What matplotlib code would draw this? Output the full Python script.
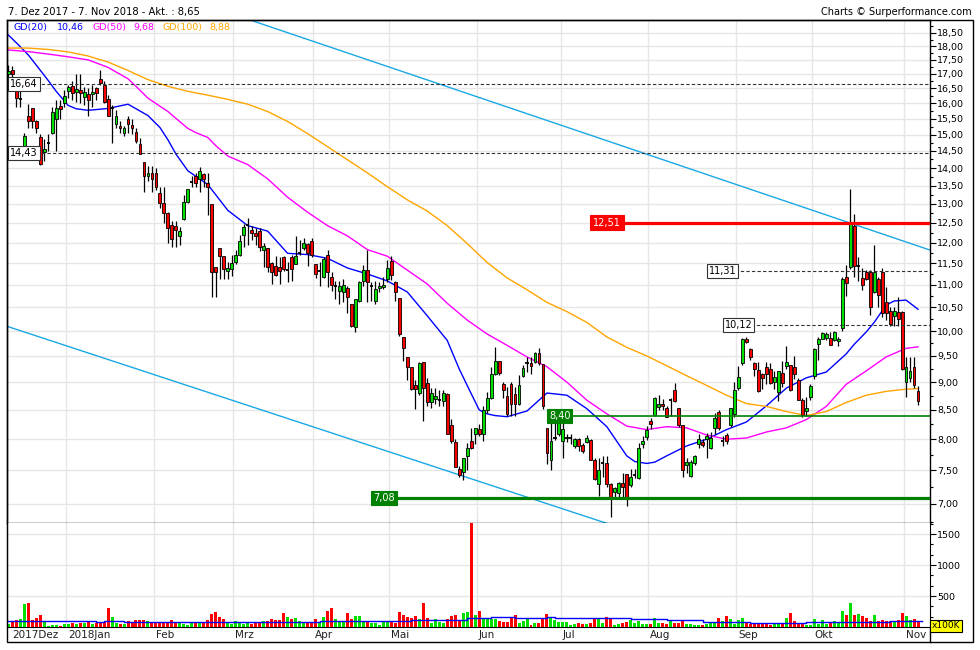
import numpy as np
import matplotlib
matplotlib.use("Agg")
import matplotlib.pyplot as plt
from matplotlib.ticker import FixedLocator, MultipleLocator, FuncFormatter, NullFormatter
from matplotlib.patches import Rectangle
from matplotlib.lines import Line2D

plt.rcParams['font.family'] = ['DejaVu Sans']

# daily candles, 7 Dez 2017 .. 7 Nov 2018
opens = [17.00, 17.12, 16.43, 16.13, 14.66, 15.57, 15.83, 15.44, 14.94, 14.47,
         14.75, 15.06, 15.50, 15.90, 16.00, 16.40, 16.57, 16.37, 16.43, 16.20,
         16.30, 16.30, 16.50, 16.83, 16.63, 16.13, 15.86, 15.34, 15.28, 15.06,
         15.50, 15.31, 15.09, 14.72, 14.18, 13.78, 13.86, 13.86, 13.29, 13.03,
         12.75, 12.45, 12.43, 12.17, 12.60, 13.05, 13.61, 13.78, 13.69, 13.83,
         13.58, 13.00, 11.41, 11.86, 11.67, 11.32, 11.36, 11.52, 11.70, 12.19,
         12.45, 12.33, 12.24, 12.29, 11.83, 11.86, 11.50, 11.43, 11.41, 11.64,
         11.34, 11.64, 11.48, 11.76, 11.88, 11.98, 12.05, 11.48, 11.32, 11.18,
         11.70, 11.18, 10.98, 10.86, 10.84, 10.93, 10.57, 10.09, 10.64, 11.09,
         11.34, 10.98, 10.64, 10.93, 10.96, 11.14, 11.55, 11.07, 10.70, 9.87,
         9.48, 9.29, 8.94, 8.80, 9.39, 8.98, 8.63, 8.69, 8.67, 8.65,
         8.78, 8.24, 7.95, 7.53, 7.47, 7.72, 7.97, 8.09, 8.17, 8.09,
         8.50, 8.71, 9.15, 9.40, 8.96, 8.74, 8.96, 8.78, 8.60, 9.11,
         9.37, 9.37, 9.39, 9.56, 9.35, 8.19, 7.66, 8.02, 8.09, 7.97,
         8.02, 8.02, 7.89, 8.00, 7.91, 7.95, 7.98, 7.67, 7.29, 7.62,
         7.61, 7.29, 7.18, 7.16, 7.31, 7.44, 7.28, 7.43, 7.38, 7.92,
         8.03, 8.31, 8.41, 8.55, 8.61, 8.54, 8.67, 8.85, 8.54, 8.23,
         7.58, 7.41, 7.61, 7.92, 7.95, 8.00, 7.86, 8.19, 8.47, 7.97,
         8.07, 8.24, 8.43, 8.90, 9.37, 9.84, 9.63, 9.37, 9.22, 9.15,
         9.29, 9.25, 9.01, 8.81, 9.18, 9.31, 9.33, 9.29, 9.04, 8.67,
         8.48, 8.72, 9.11, 9.73, 9.83, 9.86, 9.86, 9.81, 9.79, 10.07,
         11.18, 11.41, 12.43, 11.43, 11.16, 11.29, 11.29, 10.85, 11.14, 11.29,
         10.61, 10.43, 10.32, 10.41, 10.41, 9.01, 9.07, 9.29, 8.83]
highs = [17.30, 17.27, 16.55, 16.50, 15.06, 15.97, 15.85, 15.46, 15.03, 14.87,
         15.03, 15.87, 16.10, 16.10, 16.43, 16.60, 16.77, 17.00, 17.00, 16.53,
         16.50, 16.60, 16.53, 17.15, 16.77, 16.27, 15.93, 15.77, 15.44, 15.28,
         15.57, 15.50, 15.22, 14.90, 14.18, 14.06, 14.06, 14.00, 13.45, 13.45,
         12.78, 12.55, 12.55, 12.40, 13.25, 13.42, 13.78, 13.86, 14.03, 13.86,
         13.86, 13.00, 11.41, 11.86, 11.67, 11.52, 11.70, 11.83, 12.19, 12.48,
         12.62, 12.43, 12.38, 12.36, 12.00, 11.88, 11.52, 11.67, 11.64, 11.67,
         11.52, 11.69, 12.17, 12.07, 12.12, 12.00, 12.12, 11.48, 11.52, 11.64,
         11.83, 11.30, 11.09, 11.09, 11.14, 10.98, 10.57, 10.68, 11.09, 11.45,
         11.83, 11.07, 11.09, 11.07, 11.18, 11.57, 11.67, 11.09, 10.70, 9.87,
         9.48, 9.29, 9.04, 9.39, 9.39, 9.08, 8.89, 8.89, 8.85, 8.85,
         8.80, 8.34, 8.00, 7.57, 7.70, 7.94, 8.19, 8.19, 8.26, 8.57,
         8.81, 9.29, 9.67, 9.40, 9.00, 8.91, 9.00, 8.91, 9.13, 9.33,
         9.47, 9.47, 9.57, 9.65, 9.35, 8.19, 8.28, 8.28, 8.34, 8.28,
         8.09, 8.09, 8.02, 8.02, 7.94, 8.07, 8.00, 7.69, 7.69, 7.73,
         7.73, 7.31, 7.25, 7.32, 7.46, 7.44, 7.53, 7.53, 7.94, 8.05,
         8.22, 8.36, 8.72, 8.76, 8.69, 8.57, 8.71, 8.98, 8.54, 8.24,
         7.69, 7.66, 7.75, 8.09, 8.00, 8.10, 8.12, 8.45, 8.50, 8.05,
         8.10, 8.54, 9.00, 9.31, 9.86, 9.88, 9.65, 9.39, 9.39, 9.18,
         9.39, 9.37, 9.20, 9.20, 9.41, 9.69, 9.33, 9.50, 9.08, 8.71,
         8.72, 8.96, 9.65, 9.88, 9.98, 9.98, 9.98, 10.00, 9.88, 11.18,
         11.45, 13.42, 12.72, 11.64, 11.39, 11.34, 11.34, 11.95, 11.18, 11.38,
         10.96, 10.50, 10.52, 10.73, 10.43, 9.48, 9.48, 9.47, 8.92]
lows = [16.90, 16.90, 15.87, 15.87, 14.56, 15.19, 15.19, 15.06, 14.10, 14.21,
        14.50, 15.03, 14.50, 15.50, 15.87, 16.17, 16.10, 16.03, 16.00, 15.93,
        15.60, 15.87, 16.10, 16.60, 16.00, 15.60, 14.75, 15.19, 15.06, 14.97,
        15.06, 15.03, 14.75, 14.41, 13.31, 13.64, 13.31, 13.37, 12.90, 12.50,
        12.00, 11.90, 11.90, 11.95, 12.58, 13.03, 13.45, 13.45, 13.31, 13.45,
        12.70, 10.73, 10.73, 11.14, 11.14, 11.14, 11.20, 11.48, 11.67, 11.90,
        11.95, 12.07, 11.95, 11.79, 11.41, 11.30, 11.02, 11.20, 11.02, 11.32,
        11.07, 11.09, 11.48, 11.70, 11.83, 11.43, 11.64, 11.16, 10.98, 11.16,
        10.95, 10.86, 10.68, 10.57, 10.61, 10.39, 10.09, 9.98, 10.61, 10.98,
        10.61, 10.64, 10.57, 10.84, 10.91, 11.07, 11.11, 10.64, 9.90, 9.40,
        9.04, 8.85, 8.52, 8.76, 8.31, 8.57, 8.54, 8.61, 8.57, 8.57,
        8.08, 7.94, 7.55, 7.40, 7.36, 7.50, 7.84, 7.92, 8.05, 7.97,
        8.45, 8.69, 9.13, 9.13, 8.71, 8.40, 8.40, 8.40, 8.59, 9.09,
        9.19, 9.15, 9.37, 9.33, 8.52, 7.60, 7.50, 7.98, 8.05, 7.70,
        7.95, 7.92, 7.86, 7.80, 7.78, 7.94, 7.66, 7.36, 7.12, 7.40,
        7.25, 6.82, 7.10, 7.09, 7.10, 6.97, 7.25, 7.38, 7.37, 7.86,
        7.98, 8.17, 8.40, 8.50, 8.50, 8.38, 8.40, 8.64, 8.21, 7.40,
        7.46, 7.40, 7.58, 7.86, 7.88, 7.70, 7.84, 8.09, 8.16, 7.89,
        7.92, 8.21, 8.38, 8.85, 9.33, 9.76, 9.43, 9.11, 8.81, 8.87,
        8.96, 8.96, 8.87, 8.65, 8.91, 9.24, 8.83, 9.05, 8.67, 8.38,
        8.40, 8.67, 9.05, 9.43, 9.83, 9.81, 9.71, 9.79, 9.69, 10.00,
        10.75, 11.36, 11.18, 11.09, 10.89, 11.11, 10.34, 10.82, 10.52, 10.30,
        10.23, 10.10, 10.10, 10.10, 9.23, 8.72, 9.01, 8.90, 8.59]
closes = [17.10, 17.00, 16.17, 16.13, 14.97, 15.44, 15.44, 15.19, 14.12, 14.56,
          14.75, 15.70, 15.83, 15.80, 16.23, 16.53, 16.33, 16.47, 16.33, 16.37,
          16.10, 16.37, 16.33, 16.67, 16.03, 15.60, 15.86, 15.60, 15.19, 15.22,
          15.34, 15.22, 14.81, 14.41, 13.78, 13.86, 13.69, 13.45, 13.03, 12.75,
          12.36, 12.10, 12.31, 12.29, 13.05, 13.40, 13.61, 13.56, 13.92, 13.69,
          13.47, 11.30, 11.30, 11.67, 11.36, 11.39, 11.50, 11.70, 12.05, 12.40,
          12.45, 12.24, 12.17, 11.90, 11.93, 11.41, 11.30, 11.23, 11.32, 11.36,
          11.34, 11.36, 11.67, 11.76, 12.00, 11.76, 11.70, 11.25, 11.32, 11.60,
          11.30, 11.00, 10.98, 10.98, 11.00, 10.73, 10.11, 10.68, 11.07, 11.34,
          11.07, 10.98, 10.91, 10.98, 11.00, 11.39, 11.23, 10.84, 9.94, 9.65,
          9.29, 8.87, 8.87, 9.37, 8.89, 8.63, 8.80, 8.74, 8.67, 8.80,
          8.09, 7.97, 7.56, 7.43, 7.69, 7.86, 7.86, 8.19, 8.09, 8.50,
          8.71, 9.15, 9.40, 9.17, 8.85, 8.43, 8.60, 8.60, 8.94, 9.27,
          9.37, 9.31, 9.56, 9.37, 8.57, 7.78, 7.97, 8.02, 8.31, 8.17,
          8.02, 8.02, 8.00, 7.89, 7.81, 8.02, 7.67, 7.37, 7.51, 7.62,
          7.29, 7.09, 7.24, 7.31, 7.25, 7.09, 7.40, 7.43, 7.86, 7.97,
          8.16, 8.26, 8.71, 8.60, 8.57, 8.38, 8.67, 8.65, 8.24, 7.50,
          7.64, 7.63, 7.72, 8.00, 7.91, 8.05, 8.02, 8.36, 8.19, 7.97,
          7.97, 8.54, 8.85, 9.10, 9.84, 9.78, 9.48, 9.24, 8.83, 9.08,
          9.15, 8.98, 9.10, 9.20, 8.98, 9.39, 8.85, 9.15, 8.67, 8.41,
          8.54, 8.92, 9.63, 9.83, 9.96, 9.94, 9.71, 9.98, 9.84, 11.14,
          11.04, 12.48, 11.43, 11.43, 11.00, 11.14, 10.50, 11.29, 10.77, 10.39,
          10.39, 10.14, 10.43, 10.25, 9.25, 9.29, 9.20, 8.94, 8.65]
# volume in units of 100K
volumes = [54, 76, 120, 136, 364, 380, 120, 147, 200, 92,
           22, 38, 38, 22, 54, 54, 70, 54, 60, 70,
           92, 54, 60, 70, 81, 299, 168, 70, 54, 54,
           103, 81, 120, 109, 120, 103, 70, 60, 81, 81,
           81, 120, 81, 70, 54, 38, 76, 76, 70, 81,
           120, 217, 250, 168, 136, 65, 54, 98, 65, 54,
           70, 54, 81, 81, 103, 103, 136, 120, 109, 233,
           168, 136, 152, 103, 76, 76, 76, 136, 87, 168,
           266, 299, 136, 92, 103, 233, 136, 185, 185, 98,
           98, 70, 70, 38, 92, 103, 92, 70, 250, 200,
           168, 152, 185, 136, 380, 152, 70, 136, 87, 70,
           136, 185, 200, 103, 228, 244, 1700, 200, 266, 136,
           130, 136, 136, 103, 87, 87, 141, 200, 70, 103,
           141, 38, 70, 70, 141, 217, 163, 120, 81, 87,
           87, 38, 54, 70, 54, 54, 70, 136, 152, 70,
           168, 152, 38, 54, 70, 87, 120, 70, 103, 54,
           54, 54, 152, 70, 70, 54, 103, 70, 70, 103,
           54, 54, 38, 38, 38, 54, 81, 81, 152, 103,
           185, 136, 54, 120, 152, 70, 54, 54, 54, 54,
           54, 38, 54, 54, 54, 152, 233, 103, 70, 54,
           38, 38, 136, 54, 120, 54, 87, 103, 87, 266,
           200, 380, 200, 217, 185, 152, 103, 200, 103, 120,
           103, 103, 87, 120, 233, 185, 120, 136, 87]

# volume average, stepped (start index, level)
vol_avg_start = [0, 22, 24, 29, 78, 101, 115, 121, 127, 135, 137, 156, 165, 174, 186, 200, 221, 229]
vol_avg_level = [103, 81, 103, 81, 103, 120, 147, 163, 147, 163, 147, 130, 120, 81, 65, 81, 103, 103]

# moving averages (session index, value)
gd20_idx = [0, 2, 5, 8, 10, 12, 15, 17, 20, 25, 30, 35, 38, 40, 42, 45,
            50, 55, 60, 65, 70, 75, 80, 85, 90, 95, 100, 105, 110, 113, 115,
            118, 120, 122, 125, 130, 135, 140, 145, 150, 155, 157, 160, 162,
            165, 170, 175, 180, 185, 190, 195, 200, 205, 210, 212, 215, 217,
            220, 222, 225, 228]
gd20 = [18.42, 18.13, 17.68, 17.13, 16.77, 16.40, 15.93, 15.82, 15.77, 15.83,
        15.97, 15.60, 15.22, 14.84, 14.41, 13.92, 13.53, 12.83, 12.43, 12.29,
        11.74, 11.71, 11.62, 11.39, 11.25, 11.09, 10.84, 10.32, 9.81, 9.25,
        8.94, 8.50, 8.43, 8.40, 8.38, 8.48, 8.80, 8.76, 8.52, 8.21,
        7.73, 7.64, 7.61, 7.63, 7.73, 7.89, 8.00, 8.16, 8.29, 8.57,
        8.89, 9.08, 9.19, 9.54, 9.73, 9.98, 10.18, 10.55, 10.64, 10.66, 10.46]
gd50_idx = [0, 5, 10, 15, 20, 25, 30, 32, 35, 40, 45, 47, 50, 52, 55,
            60, 65, 70, 75, 80, 85, 90, 95, 100, 105, 110, 115, 120, 125, 130,
            135, 140, 145, 150, 155, 160, 165, 170, 175, 180, 185, 190, 195,
            200, 205, 210, 215, 220, 225, 228]
gd50 = [17.86, 17.80, 17.71, 17.61, 17.50, 17.23, 16.83, 16.57, 16.17, 15.73,
        15.19, 15.06, 14.91, 14.66, 14.35, 14.10, 13.69, 13.18, 12.78, 12.43,
        12.17, 11.83, 11.67, 11.34, 11.02, 10.59, 10.23, 9.94, 9.71, 9.48,
        9.29, 9.00, 8.67, 8.43, 8.22, 8.16, 8.21, 8.19, 8.07, 8.00,
        8.02, 8.12, 8.19, 8.33, 8.56, 8.96, 9.21, 9.48, 9.65, 9.68]
gd100_idx = list(range(0, 226, 5)) + [228]
gd100 = [17.93, 17.93, 17.88, 17.79, 17.64, 17.42, 17.12, 16.80, 16.57, 16.40,
         16.27, 16.13, 15.97, 15.73, 15.41, 15.03, 14.63, 14.24, 13.86, 13.47,
         13.11, 12.81, 12.43, 11.98, 11.52, 11.16, 10.89, 10.61, 10.41, 10.18,
         9.88, 9.67, 9.50, 9.31, 9.12, 8.94, 8.76, 8.61, 8.56, 8.47,
         8.40, 8.47, 8.63, 8.76, 8.83, 8.87, 8.88]

month_labels = ['2017Dez', '2018Jan', 'Feb', 'Mrz', 'Apr', 'Mai', 'Jun',
                'Jul', 'Aug', 'Sep', 'Okt', 'Nov']
month_first = [0, 15, 37, 57, 77, 96, 118, 139, 161, 183, 202, 225]

levels = [16.64, 14.43, 12.51, 11.31, 10.12, 8.40, 7.08]
level_start = [0, 0, 146, 175, 179, 135, 91]
level_kind = ['dash', 'dash', 'red', 'dash', 'dash', 'green', 'greenbold']

upper_trend = ([60.6, 210.9], [19.0, 12.5])
lower_trend = ([0.0, 147.0], [10.09, 6.78])

GREEN = '#00e000'
RED = '#ff0000'
BLUE = '#0000ff'
MAG = '#ff00ff'
ORANGE = '#ffa500'
GRID = '#e6e6e6'

W, H = 980.0, 650.0
def box(l, t, r, b):
    return [l / W, 1 - b / H, (r - l) / W, (b - t) / H]

fig = plt.figure(figsize=(9.8, 6.5), dpi=100, facecolor='white')
ax = fig.add_axes(box(7, 20, 930, 523))
axv = fig.add_axes(box(7, 523, 930, 627))

x = np.arange(len(closes))
o = np.array(opens); h = np.array(highs); l = np.array(lows); c = np.array(closes)
cols = np.where(c >= o, GREEN, RED)
XL = (-0.33, 231.0)

# ---- price panel
ax.set_yscale('log')
ax.set_ylim(6.73, 19.0)
ax.set_xlim(*XL)

ax.vlines(x, l, h, color='black', lw=0.9, zorder=3)
body = np.abs(c - o)
solid = body > 0
ax.bar(x[solid], body[solid], bottom=np.minimum(o, c)[solid], width=0.72,
       color=cols[solid], edgecolor='black', lw=0.6, zorder=4)
ax.hlines(c[~solid], x[~solid] - 0.4, x[~solid] + 0.4, color='black', lw=1.3, zorder=4)

ax.plot(gd20_idx, gd20, color=BLUE, lw=1, zorder=2.5)
ax.plot(gd50_idx, gd50, color=MAG, lw=1, zorder=2.5)
ax.plot(gd100_idx, gd100, color=ORANGE, lw=1, zorder=2.5)

def trend(pts, x0, x1):
    (xa, xb), (pa, pb) = pts
    s = (np.log(pb) - np.log(pa)) / (xb - xa)
    xs = np.array([x0, x1])
    return xs, pa * np.exp(s * (xs - xa))

for pts, (x0, x1) in [(upper_trend, (40, XL[1])), (lower_trend, (XL[0], 170))]:
    xs, ys = trend(pts, x0, x1)
    ax.plot(xs, ys, color='#1aa8e6', lw=1, zorder=2)

fmt = lambda v: f"{v:.2f}".replace('.', ',')
for lev, st, kind in zip(levels, level_start, level_kind):
    if kind == 'dash':
        ax.hlines(lev, st, XL[1], color='#333333', lw=0.8, linestyles=(0, (3, 2)), zorder=5)
        bb = dict(boxstyle='square,pad=0.2', fc='white', ec='#333333', lw=0.8)
        tc = 'black'
    elif kind == 'red':
        ax.hlines(lev, st, XL[1], color=RED, lw=2.3, zorder=5)
        bb = dict(boxstyle='square,pad=0.3', fc=RED, ec=RED, lw=0.8)
        tc = 'white'
    else:
        ax.hlines(lev, st, XL[1], color='#008000', lw=2.3 if kind == 'greenbold' else 1.2, zorder=5)
        bb = dict(boxstyle='square,pad=0.2', fc='#008000', ec='#008000', lw=0.8)
        tc = 'white'
    ax.text(st + 0.5, lev, fmt(lev), fontsize=7, color=tc, ha='left', va='center',
            bbox=bb, zorder=6)

ax.yaxis.tick_right()
ax.yaxis.set_major_locator(FixedLocator(np.arange(7.0, 18.51, 0.5)))
ax.yaxis.set_minor_locator(FixedLocator(np.arange(6.75, 19.0, 0.5)))
ax.yaxis.set_major_formatter(FuncFormatter(lambda v, p: fmt(v)))
ax.yaxis.set_minor_formatter(NullFormatter())
ax.tick_params(axis='y', which='major', direction='out', length=4, width=0.8, labelsize=6.8, pad=1)
ax.tick_params(axis='y', which='minor', direction='out', length=2.5, width=0.8)
ax.set_xticks([])
ax.grid(axis='y', which='major', color=GRID, lw=1, zorder=0)
for m in month_first[1:]:
    ax.axvline(m - 0.6, color=GRID, lw=1, zorder=0)
for s in ax.spines.values():
    s.set_linewidth(1)

# legend line
leg = [("GD(20)", 13, BLUE), (fmt(gd20[-1]), 57, BLUE), ("GD(50)", 92, MAG),
       (fmt(gd50[-1]), 133, MAG), ("GD(100)", 162, ORANGE), (fmt(gd100[-1]), 209, ORANGE)]
for txt, px, col in leg:
    fig.text(px / W, 1 - 27.5 / H, txt, color=col, fontsize=6.8, va='center')

# ---- volume panel
axv.set_xlim(*XL)
axv.bar(x, volumes, width=0.75, color=cols, lw=0, zorder=3)
axv.step(vol_avg_start, vol_avg_level, where='post', color=BLUE, lw=1, zorder=4)
axv.set_ylim(0, 1680)
axv.yaxis.tick_right()
axv.set_yticks([500, 1000, 1500])
axv.yaxis.set_minor_locator(MultipleLocator(500 / 3))
axv.tick_params(axis='y', which='major', direction='out', length=4, width=0.8, labelsize=6.8, pad=1)
axv.tick_params(axis='y', which='minor', direction='out', length=2.5, width=0.8)
axv.set_xticks([])
axv.grid(axis='y', which='major', color=GRID, lw=1, zorder=0)
for m in month_first[1:]:
    axv.axvline(m - 0.6, color=GRID, lw=1, zorder=0)
axv.spines['top'].set_visible(False)

for lab, m in zip(month_labels, month_first):
    axv.text(max(m - 0.1, 0.9), -0.078, lab, transform=axv.get_xaxis_transform(),
             fontsize=7.5, ha='left', va='center', color='#202020')

# ---- frame and headers
fig.add_artist(Rectangle((7 / W, 1 - 642 / H), (973 - 7) / W, (642 - 20) / H,
                         transform=fig.transFigure, fill=False, ec='black', lw=1))
fig.add_artist(Line2D([930 / W, 930 / W], [1 - 642 / H, 1 - 627 / H],
                      transform=fig.transFigure, color='black', lw=1))
fig.text(8 / W, 1 - 12 / H, f"7. Dez 2017 - 7. Nov 2018 - Akt. : {fmt(closes[-1])}",
         fontsize=7.2, va='center')
fig.text(972 / W, 1 - 12 / H, "Charts \u00a9 Surperformance.com", fontsize=7,
         ha='right', va='center')
fig.text(946 / W, 1 - 626 / H, "x100K", fontsize=6.5, ha='center', va='center',
         bbox=dict(boxstyle='square,pad=0.15', fc='#ffff00', ec='black', lw=0.8))

fig.savefig('out.png', dpi=100, facecolor='white')
